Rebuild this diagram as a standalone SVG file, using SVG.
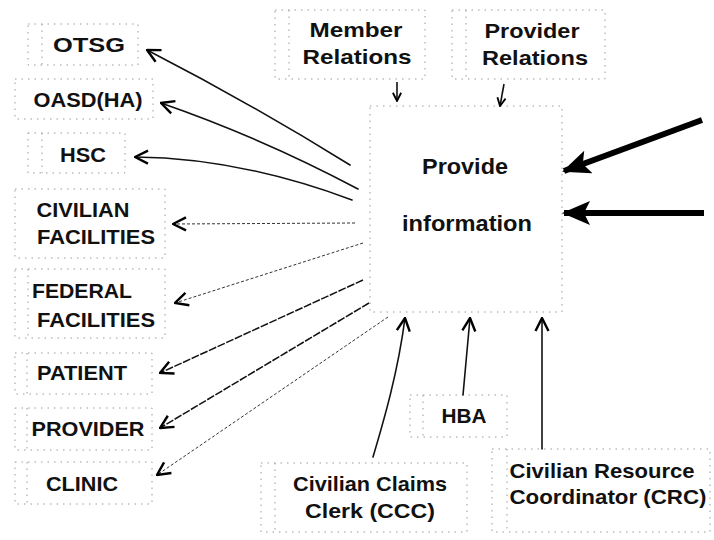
<svg xmlns="http://www.w3.org/2000/svg" width="714" height="540" viewBox="0 0 714 540">
  <style>
    .frame { fill: none; stroke: #9a9a9a; stroke-width: 1; stroke-dasharray: 1.5 5; }
    .label { font-family: "Liberation Sans", Arial, Helvetica, sans-serif; font-weight: 700; font-size: 21px; fill: #111; text-anchor: middle; }
    .mid { font-size: 22px; }
    .solid { fill: none; stroke: #111; stroke-width: 1.6; stroke-linecap: round; marker-end: url(#open); }
    .faint { fill: none; stroke: #333; stroke-width: 1; stroke-dasharray: 3 2; marker-end: url(#open); }
    .dash { fill: none; stroke: #111; stroke-width: 1.5; stroke-dasharray: 8 1.5; marker-end: url(#open); }
    .small { fill: none; stroke: #111; stroke-width: 1.6; marker-end: url(#openSmall); }
    .heavy { fill: none; stroke: #000; stroke-width: 6; marker-end: url(#solidHead); }
  </style>
  <defs>
    <marker id="open" viewBox="0 0 16 16" refX="15" refY="8" markerWidth="16" markerHeight="16" markerUnits="userSpaceOnUse" orient="auto">
      <path d="M2,1.5 L15,8 L2,14.5" fill="none" stroke="#000" stroke-width="2.4" stroke-linejoin="miter"/>
    </marker>
    <marker id="openSmall" viewBox="0 0 12 12" refX="11" refY="6" markerWidth="11" markerHeight="11" markerUnits="userSpaceOnUse" orient="auto">
      <path d="M2,1.5 L11,6 L2,10.5" fill="none" stroke="#000" stroke-width="2"/>
    </marker>
    <marker id="solidHead" viewBox="0 0 28 24" refX="26" refY="12" markerWidth="28" markerHeight="24" markerUnits="userSpaceOnUse" orient="auto">
      <path d="M0,0 L28,12 L0,24 L6,12 z" fill="#000"/>
    </marker>
  </defs>

  <rect width="714" height="540" fill="#fff"/>

  <!-- left column of recipients -->
  <g id="otsg">
    <rect class="frame" x="28" y="24" width="110" height="41"/>
    <line class="frame" x1="42" y1="24" x2="42" y2="65"/>
    <text class="label" x="89" y="52" textLength="72" lengthAdjust="spacingAndGlyphs">OTSG</text>
  </g>
  <g id="oasd">
    <rect class="frame" x="15" y="79" width="138" height="40"/>
    <text class="label" x="88" y="107" textLength="109" lengthAdjust="spacingAndGlyphs">OASD(HA)</text>
  </g>
  <g id="hsc">
    <rect class="frame" x="28" y="133" width="97" height="40"/>
    <line class="frame" x1="42" y1="133" x2="42" y2="173"/>
    <text class="label" x="83" y="162" textLength="46" lengthAdjust="spacingAndGlyphs">HSC</text>
  </g>
  <g id="civilian-facilities">
    <rect class="frame" x="15" y="189" width="150" height="69"/>
    <text class="label" x="83" y="217" textLength="93" lengthAdjust="spacingAndGlyphs">CIVILIAN</text>
    <text class="label" x="96" y="244" textLength="118" lengthAdjust="spacingAndGlyphs">FACILITIES</text>
  </g>
  <g id="federal-facilities">
    <rect class="frame" x="15" y="269" width="150" height="69"/>
    <line class="frame" x1="28" y1="269" x2="28" y2="338"/>
    <text class="label" x="82" y="298" textLength="100" lengthAdjust="spacingAndGlyphs">FEDERAL</text>
    <text class="label" x="96" y="327" textLength="118" lengthAdjust="spacingAndGlyphs">FACILITIES</text>
  </g>
  <g id="patient">
    <rect class="frame" x="15" y="353" width="137" height="41"/>
    <line class="frame" x1="27" y1="353" x2="27" y2="394"/>
    <text class="label" x="82" y="380" textLength="90" lengthAdjust="spacingAndGlyphs">PATIENT</text>
  </g>
  <g id="provider">
    <rect class="frame" x="15" y="408" width="137" height="42"/>
    <line class="frame" x1="27" y1="408" x2="27" y2="450"/>
    <text class="label" x="88" y="436" textLength="113" lengthAdjust="spacingAndGlyphs">PROVIDER</text>
  </g>
  <g id="clinic">
    <rect class="frame" x="15" y="462" width="137" height="42"/>
    <line class="frame" x1="27" y1="462" x2="27" y2="504"/>
    <text class="label" x="82" y="491" textLength="72" lengthAdjust="spacingAndGlyphs">CLINIC</text>
  </g>

  <!-- top sources -->
  <g id="member-relations">
    <rect class="frame" x="275" y="10" width="150" height="69"/>
    <line class="frame" x1="289" y1="10" x2="289" y2="79"/>
    <text class="label" x="356" y="37" textLength="93" lengthAdjust="spacingAndGlyphs">Member</text>
    <text class="label" x="357" y="64" textLength="109" lengthAdjust="spacingAndGlyphs">Relations</text>
  </g>
  <g id="provider-relations">
    <rect class="frame" x="452" y="10" width="153" height="69"/>
    <line class="frame" x1="466" y1="10" x2="466" y2="79"/>
    <text class="label" x="532" y="38" textLength="95" lengthAdjust="spacingAndGlyphs">Provider</text>
    <text class="label" x="535" y="65" textLength="106" lengthAdjust="spacingAndGlyphs">Relations</text>
  </g>

  <!-- central process -->
  <g id="provide-information">
    <rect class="frame" x="370" y="106" width="192" height="206"/>
    <text class="label mid" x="465" y="174" textLength="86" lengthAdjust="spacingAndGlyphs">Provide</text>
    <text class="label mid" x="467" y="231" textLength="130" lengthAdjust="spacingAndGlyphs">information</text>
  </g>

  <!-- bottom sources -->
  <g id="hba">
    <rect class="frame" x="410" y="395" width="97" height="42"/>
    <line class="frame" x1="423" y1="395" x2="423" y2="437"/>
    <text class="label" x="464" y="423" textLength="45" lengthAdjust="spacingAndGlyphs">HBA</text>
  </g>
  <g id="ccc">
    <rect class="frame" x="261" y="463" width="206" height="69"/>
    <line class="frame" x1="275" y1="463" x2="275" y2="532"/>
    <text class="label" x="370" y="491" textLength="154" lengthAdjust="spacingAndGlyphs">Civilian Claims</text>
    <text class="label" x="370" y="518" textLength="130" lengthAdjust="spacingAndGlyphs">Clerk (CCC)</text>
  </g>
  <g id="crc">
    <rect class="frame" x="492" y="449" width="218" height="83"/>
    <line class="frame" x1="507" y1="449" x2="507" y2="532"/>
    <text class="label" x="602" y="478" textLength="185" lengthAdjust="spacingAndGlyphs">Civilian Resource</text>
    <text class="label" x="608" y="504" textLength="197" lengthAdjust="spacingAndGlyphs">Coordinator (CRC)</text>
  </g>

  <!-- connectors -->
  <g id="connectors">
    <!-- outgoing to the left column -->
    <path class="solid" d="M350,165 Q250,103 147,50"/>
    <path class="solid" d="M358,189 Q262,138 161,103"/>
    <path class="solid" d="M352,200 Q240,158 135,157"/>
    <path class="faint" d="M355,223 L173,224"/>
    <path class="faint" d="M363,243 L175,303"/>
    <path class="dash" d="M363,280 L160,373"/>
    <path class="dash" d="M369,303 L160,428"/>
    <path class="faint" d="M388,317 L157,475"/>
    <!-- incoming from the top -->
    <path class="small" d="M397,82 L397,101"/>
    <path class="small" d="M504,84 L500,106"/>
    <!-- incoming from the right -->
    <path class="heavy" d="M702,120 L564,171"/>
    <path class="heavy" d="M704,213 L564,213"/>
    <!-- incoming from below -->
    <path class="solid" d="M373,457 C384,420 398,372 405,318"/>
    <path class="solid" d="M463,395 L470,318"/>
    <path class="solid" d="M542,449 L542,318"/>
  </g>
</svg>
